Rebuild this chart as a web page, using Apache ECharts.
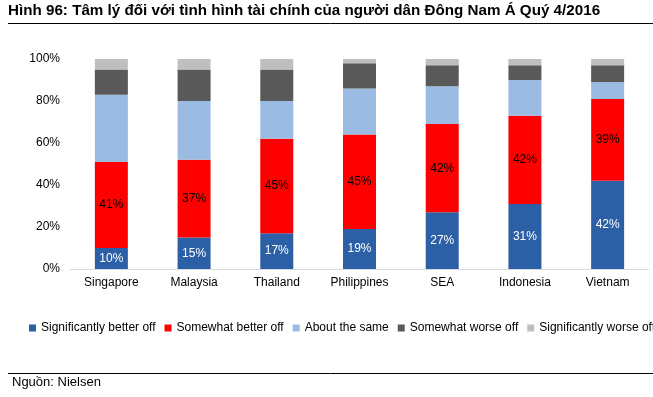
<!DOCTYPE html>
<html>
<head>
<meta charset="utf-8">
<script src="https://cdn.jsdelivr.net/npm/echarts@6/dist/echarts.min.js"></script>
<style>
  html, body { margin: 0; padding: 0; background: #fff; }
  #chart { width: 653px; height: 397px; }
</style>
</head>
<body>
<div id="chart"></div>
<script>
const categories = ['Singapore', 'Malaysia', 'Thailand', 'Philippines', 'SEA', 'Indonesia', 'Vietnam']
const seriesNames = ['Significantly better off', 'Somewhat better off', 'About the same', 'Somewhat worse off', 'Significantly worse off']
const sigBetter = [10, 15, 17, 19, 27, 31, 42]
const someBetter = [41, 37, 45, 45, 42, 42, 39]
const aboutSame = [32, 28, 18, 22, 18, 17, 8]
const someWorse = [12, 15, 15, 12, 10, 7, 8]
const sigWorse = [5, 5, 5, 2, 3, 3, 3]
const yTicks = [0, 20, 40, 60, 80, 100]

const colors = ['#2B5FA6', '#FF0000', '#9BBBE3', '#595959', '#BFBFBF']
const font = 'Liberation Sans, Arial, sans-serif'

const myChart = echarts.init(document.getElementById('chart'))

const makeSeries = (name, data, i, label) => ({
  name,
  type: 'bar',
  stack: 'total',
  barWidth: 33,
  itemStyle: { color: colors[i] },
  label: label ? {
    show: true,
    position: 'inside',
    formatter: '{c}%',
    color: label,
    fontFamily: font,
    fontSize: 12
  } : { show: false },
  data
})

myChart.setOption({
  animation: false,
  color: colors,
  title: {
    text: 'Hình 96: Tâm lý đối với tình hình tài chính của người dân Đông Nam Á Quý 4/2016',
    left: 8,
    top: 3,
    padding: 0,
    textStyle: { fontFamily: font, fontSize: 15.2, fontWeight: 'bold', color: '#000' }
  },
  graphic: [
    { type: 'line', shape: { x1: 8, y1: 23.5, x2: 653, y2: 23.5 }, style: { stroke: '#000', lineWidth: 1 } },
    { type: 'line', shape: { x1: 8, y1: 373.5, x2: 653, y2: 373.5 }, style: { stroke: '#000', lineWidth: 1 } },
    {
      type: 'text', left: 12, top: 376,
      style: { text: 'Nguồn: Nielsen', font: '13px ' + font, fill: '#000' }
    }
  ],
  legend: {
    data: seriesNames,
    left: 29,
    top: 322,
    padding: 0,
    width: 1200,
    itemWidth: 7,
    itemHeight: 7,
    itemGap: 9,
    icon: 'rect',
    textStyle: { fontFamily: font, fontSize: 12, color: '#000' }
  },
  grid: {
    left: 70,
    right: 4,
    top: 59,
    bottom: 128
  },
  xAxis: {
    type: 'category',
    data: categories,
    axisLine: { lineStyle: { color: '#D9D9D9', width: 1 } },
    axisTick: { show: false },
    axisLabel: { color: '#000', fontFamily: font, fontSize: 12, margin: 8 }
  },
  yAxis: {
    type: 'value',
    min: yTicks[0],
    max: yTicks[yTicks.length - 1],
    interval: yTicks[1] - yTicks[0],
    axisLine: { show: false },
    axisTick: { show: false },
    splitLine: { show: false },
    axisLabel: { color: '#000', fontFamily: font, fontSize: 12, margin: 10, formatter: '{value}%' }
  },
  series: [
    makeSeries(seriesNames[0], sigBetter, 0, '#fff'),
    makeSeries(seriesNames[1], someBetter, 1, '#000'),
    makeSeries(seriesNames[2], aboutSame, 2),
    makeSeries(seriesNames[3], someWorse, 3),
    makeSeries(seriesNames[4], sigWorse, 4)
  ]
})
</script>
</body>
</html>
